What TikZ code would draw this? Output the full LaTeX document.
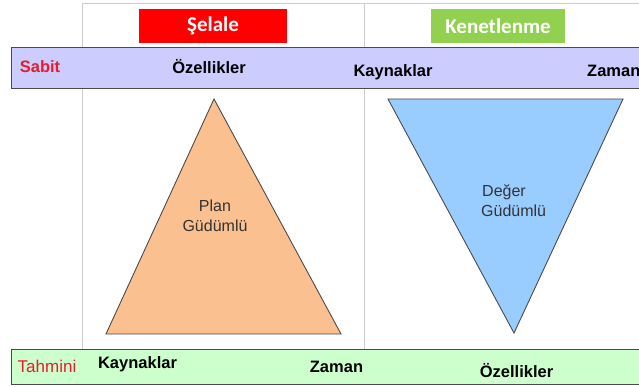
\documentclass[tikz,border=0pt]{standalone}
\usepackage{fontspec}
\setmainfont{Liberation Sans}
\newfontfamily\titlefont{Carlito}
\usetikzlibrary{positioning}
\definecolor{bandblue}{RGB}{204,204,255}
\definecolor{bandgreen}{RGB}{204,255,204}
\definecolor{planorange}{RGB}{250,192,144}
\definecolor{valueblue}{RGB}{153,204,255}
\definecolor{gridgray}{RGB}{205,205,205}
\definecolor{edgegray}{RGB}{75,75,75}
\definecolor{kgreen}{RGB}{146,208,80}
\definecolor{rowred}{RGB}{232,28,44}
\tikzstyle{band} = [shape = rectangle, draw = edgegray, line width = 1.2pt, anchor = north west, inner sep = 0]
\tikzstyle{title} = [shape = rectangle, text = white, font = \titlefont\bfseries\fontsize{21}{25}\selectfont, minimum height = 34pt, inner sep = 0]
\tikzstyle{item} = [font = \bfseries\fontsize{16.5}{20}\selectfont, inner sep = 0, anchor = base]
\tikzstyle{rowname} = [item, text = rowred]
\tikzstyle{tri} = [draw = edgegray, line width = 0.9pt, line join = miter]
\tikzstyle{trilbl} = [text = black!80, font = \fontsize{16}{20}\selectfont, inner sep = 0, anchor = base]

\begin{document}
\begin{tikzpicture}[x=1pt, y=-1pt]
	\useasboundingbox (0,0) rectangle (639,387);
	% column grid
	\draw[gridgray, line width = 1pt] (82,349) |- (640,4);
	\draw[gridgray, line width = 1pt] (364,4) -- (364,349);
	% headings
	\node (waterfall) [title, fill = red, minimum width = 148pt] at (213,26) {Şelale};
	\node (agile) [title, fill = kgreen, minimum width = 134pt] at (498,26) {Kenetlenme};
	% fixed row
	\node (fixedband) [band, fill = bandblue, minimum width = 640pt, minimum height = 41pt] at (11,47) {};
	\node (fixed) [rowname, font = \bfseries\fontsize{16.5}{20}\selectfont] at (40,73) {\textbf{Sabit}};
	\node (fixedA) [item] at (209,74) {Özellikler};
	\node (fixedB) [item] at (393,77) {Kaynaklar};
	\node (fixedC) [item, anchor = base west] at (587,77) {Zaman};
	% triangles
	\coordinate (planTop) at (214,99);
	\coordinate (planL) at (106,334);
	\coordinate (planR) at (341,334);
	\draw[tri, fill = planorange] (planTop) -- (planR) -- (planL) -- cycle;
	\node (plan1) [trilbl] at (215,212) {Plan};
	\node (plan2) [trilbl] at (215,232) {Güdümlü};
	\coordinate (valueL) at (388,99);
	\coordinate (valueR) at (623,99);
	\coordinate (valueBot) at (514,333);
	\draw[tri, fill = valueblue] (valueL) -- (valueR) -- (valueBot) -- cycle;
	\node (value1) [trilbl, anchor = base west] at (482,197) {Değer};
	\node (value2) [trilbl, anchor = base west] at (481,217) {Güdümlü};
	% estimated row
	\node (estband) [band, fill = bandgreen, minimum width = 640pt, minimum height = 35pt] at (11,349) {};
	\node (est) [rowname, font = \fontsize{17}{20}\selectfont] at (47,372) {Tahmini};
	\node (estA) [item] at (137.5,368) {Kaynaklar};
	\node (estB) [item] at (336.5,372) {Zaman};
	\node (estC) [item] at (516.5,377) {Özellikler};
\end{tikzpicture}
\end{document}
